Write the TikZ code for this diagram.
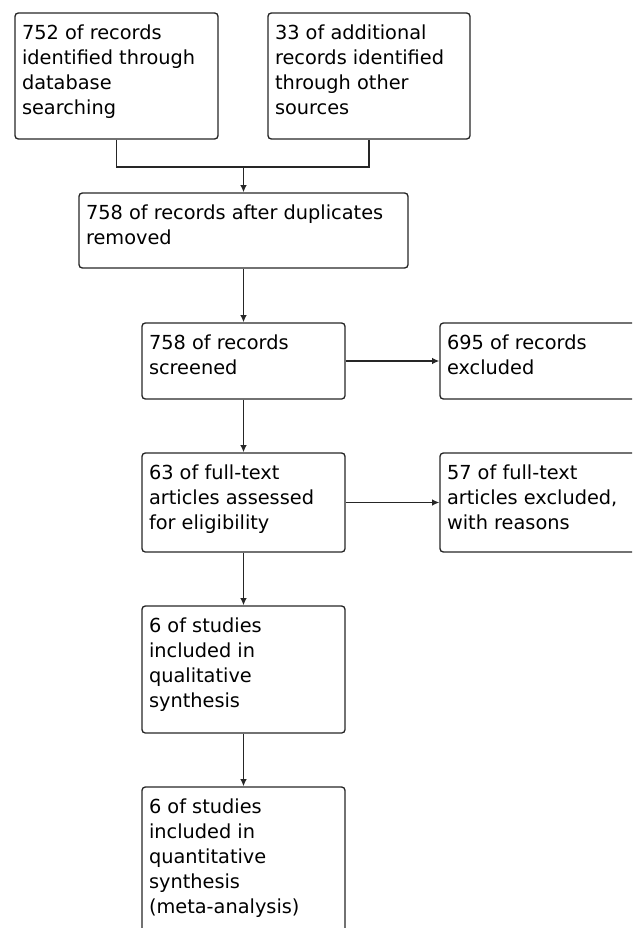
\documentclass[tikz,border=0pt]{standalone}
\usepackage{fontspec}
\setmainfont{DejaVu Sans}
\usetikzlibrary{arrows.meta}

% text inside a box: fixed size, first line at the top
\newcommand{\boxtext}[3]{\parbox[c][#2][t]{#1}{\raggedright\rule{0pt}{19.5pt}#3}}

\tikzset{
	flowbox/.style={draw=black!85, line width=1pt, rounded corners=2.5pt,
		inner xsep=5.25pt, inner ysep=0pt},
	flowline/.style={draw=black!85, line width=1pt},
	flowarrow/.style={flowline, -{Latex[length=5.5pt,width=5pt]}}
}

\begin{document}
\begin{tikzpicture}[x=0.75pt, y=-0.75pt, font=\fontsize{14.5pt}{18.75pt}\selectfont]
	\clip (0,0) rectangle (632,928);
	% identification
	\node[flowbox] (rec1) at (116.5,76){\boxtext{141.75pt}{94.5pt}{752 of records\\identified through\\database\\searching}};
	\node[flowbox] (rec2) at (369,76){\boxtext{141pt}{94.5pt}{33 of additional\\records identified\\through other\\sources}};
	\coordinate (join) at (243.5,167);
	% screening
	\node[flowbox] (dup) at (243.5,230.5){\boxtext{236.25pt}{56.25pt}{758 of records after duplicates\\removed}};
	\node[flowbox] (scr) at (243.5,361){\boxtext{141.75pt}{57pt}{758 of records\\screened}};
	\node[flowbox] (exc) at (541.5,361){\boxtext{141.75pt}{57pt}{695 of records\\excluded}};
	% eligibility
	\node[flowbox] (full) at (243.5,502.5){\boxtext{141.75pt}{74.25pt}{63 of full-text\\articles assessed\\for eligibility}};
	\node[flowbox] (fexc) at (541.5,502.5){\boxtext{141.75pt}{74.25pt}{57 of full-text\\articles excluded,\\with reasons}};
	% included
	\node[flowbox] (qual) at (243.5,669.5){\boxtext{141.75pt}{95.25pt}{6 of studies\\included in\\qualitative\\synthesis}};
	\node[flowbox] (quant) at (243.5,867){\boxtext{141.75pt}{120pt}{6 of studies\\included in\\quantitative\\synthesis\\(meta-analysis)}};
	% connectors
	\draw[flowline] (rec1) -- (rec1 |- join) -- (rec2 |- join) -- (rec2);
	\draw[flowarrow] (join) -- (dup);
	\foreach \a/\b in {dup/scr, scr/full, full/qual, qual/quant}{
		\draw[flowarrow] (\a) -- (\b);
	}
	\draw[flowarrow] (scr) -- (exc);
	\draw[flowarrow] (full) -- (fexc);
\end{tikzpicture}
\end{document}
